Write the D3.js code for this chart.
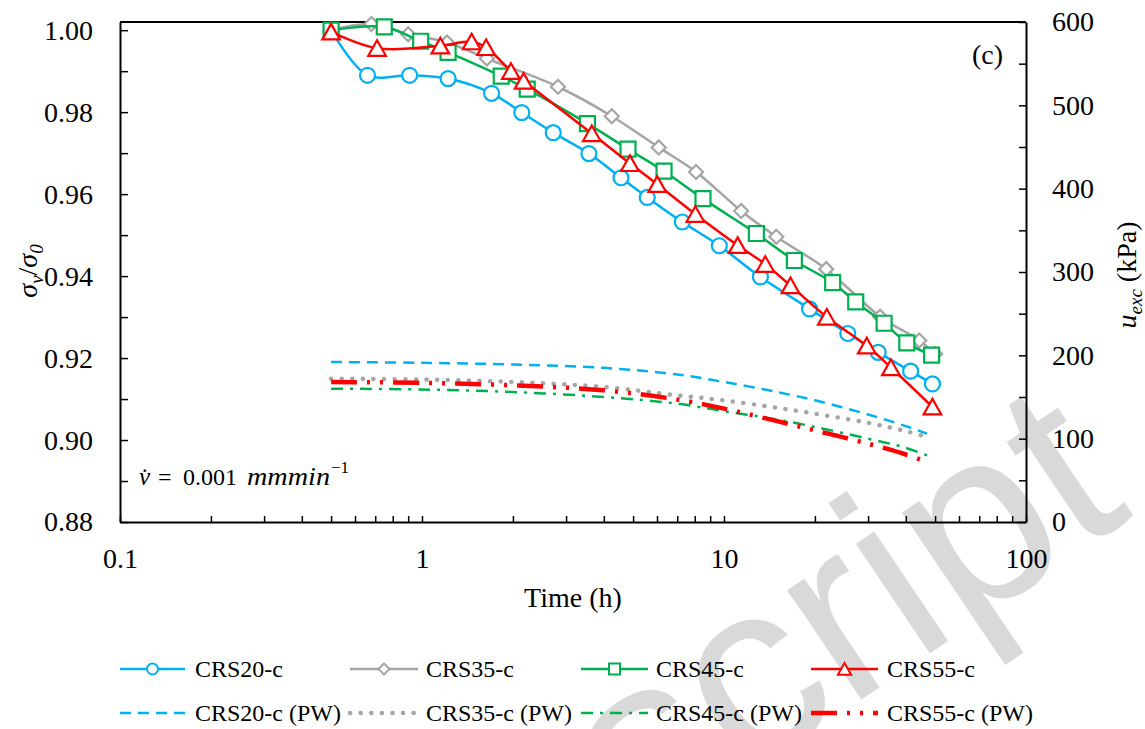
<!DOCTYPE html>
<html>
<head>
<meta charset="utf-8">
<script src="https://cdn.jsdelivr.net/npm/d3@7"></script>
<style>
  body { margin: 0; background: #fff; }
  svg { display: block; }
  text { font-family: "Liberation Serif", "Times New Roman", serif; fill: #000; }
</style>
</head>
<body>
<svg id="chart" width="1145" height="729"></svg>
<script>
// ---------------- DATA ----------------
// sigma_v / sigma_0 (left axis) vs time (h)
const crs20Time  = [0.5, 0.66, 0.91, 1.22, 1.70, 2.14, 2.72, 3.57, 4.56, 5.57, 7.28, 9.65, 13.2, 19.2, 25.7, 32.4, 41.5, 49];
const crs20Ratio = [1.000, 0.989, 0.989, 0.9882, 0.9846, 0.9799, 0.9750, 0.9699, 0.9640, 0.9592, 0.9532, 0.9474, 0.9398, 0.9320, 0.9260, 0.9214, 0.9168, 0.9137];

const crs35Time  = [0.5, 0.68, 0.90, 1.21, 1.64, 2.82, 4.25, 6.08, 8.08, 11.4, 14.9, 21.8, 32.9, 44.3, 50];
const crs35Ratio = [1.000, 1.0015, 0.999, 0.997, 0.9931, 0.9862, 0.9790, 0.9714, 0.9654, 0.9559, 0.9496, 0.9417, 0.9301, 0.9243, 0.9210];

const crs45Time  = [0.5, 0.75, 0.99, 1.22, 1.83, 2.23, 3.53, 4.81, 6.33, 8.52, 12.8, 17.1, 22.9, 27.3, 33.9, 40.3, 48.7];
const crs45Ratio = [1.000, 1.0008, 0.9973, 0.9946, 0.9888, 0.9856, 0.9772, 0.9710, 0.9656, 0.9589, 0.9504, 0.9438, 0.9384, 0.9337, 0.9285, 0.9237, 0.9207];

const crs55Time  = [0.5, 0.71, 1.15, 1.46, 1.63, 1.97, 2.17, 3.65, 4.88, 6.01, 8.04, 11.1, 13.7, 16.6, 21.9, 29.7, 35.7, 49];
const crs55Ratio = [0.9996, 0.9956, 0.9962, 0.9972, 0.9958, 0.9900, 0.9876, 0.9748, 0.9675, 0.9624, 0.9551, 0.9475, 0.9429, 0.9377, 0.9300, 0.9230, 0.9177, 0.9081];

// excess pore water pressure u_exc (kPa, right axis)
const pwTime   = [0.5, 1, 2, 4, 7, 10, 15, 20, 30, 40, 47];
const crs20PW  = [192, 191, 189, 185, 177, 168, 156, 146, 129, 115, 106];
const crs35PW  = [172, 171, 168, 162, 152, 146, 137, 130, 119, 109, 102];
const crs45PW  = [160, 159, 156, 150, 142, 133, 123, 114, 100, 89, 80];
const crs55PW  = [168, 167, 164, 158, 147, 136, 121, 110, 94, 81, 72];

// axis tick labels
const xTickLabels      = ["0.1", "1", "10", "100"];
const xTickLabelValues = [0.1, 1, 10, 100];
const yLeftDomain  = [0.88, 1.002];
const yRightDomain = [0, 600];

// ---------------- CHART ----------------
const svg = d3.select("#chart");

const x  = d3.scaleLog().domain([0.1, 100]).range([120, 1026]);
const yL = d3.scaleLinear().domain(yLeftDomain).range([522, 22]);
const yR = d3.scaleLinear().domain(yRightDomain).range([522, 22]);

// watermark (behind everything)
svg.append("text")
  .attr("transform", "translate(1135,515) rotate(-34)")
  .attr("text-anchor", "end")
  .style("font-family", "'Liberation Sans', Arial, sans-serif")
  .style("font-size", "250px")
  .style("fill", "#d9d9d9")
  .text("Manuscript");

// clip for plot
svg.append("defs").append("clipPath").attr("id", "plotclip")
  .append("rect").attr("x", 100).attr("y", 0).attr("width", 960).attr("height", 540);

// axes
const leftTicks = d3.range(88, 101).map(d => d / 100);
const leftAxis = d3.axisLeft(yL)
  .tickValues(leftTicks)
  .tickSizeInner(-8).tickSizeOuter(0).tickPadding(27)
  .tickFormat(d => (Math.round(d * 100) % 2 === 0) ? d3.format(".2f")(d) : "");
const gL = svg.append("g").attr("transform", `translate(${x.range()[0]},0)`).call(leftAxis);

const rightTicks = d3.range(0, 601, 50);
const rightAxis = d3.axisRight(yR)
  .tickValues(rightTicks)
  .tickSizeInner(-7).tickSizeOuter(0).tickPadding(26)
  .tickFormat(d => d % 100 === 0 ? String(d) : "");
const gR = svg.append("g").attr("transform", `translate(${x.range()[1]},0)`).call(rightAxis);

const isMajor = d => Math.abs(Math.log10(d) - Math.round(Math.log10(d))) < 1e-9;
const bottomAxis = d3.axisBottom(x)
  .tickValues(x.ticks())
  .tickSizeInner(-6).tickSizeOuter(0).tickPadding(26)
  .tickFormat(d => {
    if (!isMajor(d)) return "";
    const i = xTickLabelValues.findIndex(v => Math.abs(v - d) < 1e-9);
    return i >= 0 ? xTickLabels[i] : "";
  });
const gB = svg.append("g").attr("transform", `translate(0,${yL.range()[0]})`).call(bottomAxis);

[gL, gR, gB].forEach(g => {
  g.select(".domain").attr("stroke", "#000").attr("stroke-width", 2);
  g.selectAll(".tick line").attr("stroke", "#000").attr("stroke-width", 1.5);
  g.selectAll(".tick text").style("font-family", "'Liberation Serif','Times New Roman',serif").style("font-size", "28px").attr("fill", "#000");
});

// top border
svg.append("line")
  .attr("x1", x.range()[0]).attr("x2", x.range()[1])
  .attr("y1", yL.range()[1]).attr("y2", yL.range()[1])
  .attr("stroke", "#000").attr("stroke-width", 2);

// axis titles
svg.append("text").attr("x", (x.range()[0] + x.range()[1]) / 2).attr("y", 607)
  .attr("text-anchor", "middle").style("font-size", "28px").text("Time (h)");

const lt = svg.append("text").attr("transform", "translate(37,271) rotate(-90)")
  .attr("text-anchor", "middle").style("font-size", "28px");
lt.append("tspan").style("font-style", "italic").text("σ");
lt.append("tspan").style("font-style", "italic").style("font-size", "19px").attr("dy", 6).text("v");
lt.append("tspan").attr("dy", -6).text("/");
lt.append("tspan").style("font-style", "italic").text("σ");
lt.append("tspan").style("font-style", "italic").style("font-size", "19px").attr("dy", 6).text("0");

const rt = svg.append("text").attr("transform", "translate(1136,275) rotate(-90)")
  .attr("text-anchor", "middle").style("font-size", "28px");
rt.append("tspan").style("font-style", "italic").text("u");
rt.append("tspan").style("font-style", "italic").style("font-size", "19px").attr("dy", 6).text("exc");
rt.append("tspan").attr("dy", -6).text(" (kPa)");

// annotations
svg.append("text").attr("x", 972).attr("y", 64).style("font-size", "28px").text("(c)");
svg.append("text").attr("x", 139).attr("y", 485).style("font-size", "25px").style("font-style", "italic").text("v\u0307");
svg.append("text").attr("x", 158).attr("y", 485).style("font-size", "24px").text("=");
svg.append("text").attr("x", 183).attr("y", 485).style("font-size", "24px").text("0.001");
svg.append("text").attr("x", 247).attr("y", 485).style("font-size", "25px").style("font-style", "italic")
  .attr("textLength", 83).attr("lengthAdjust", "spacingAndGlyphs").text("mmmin");
svg.append("text").attr("x", 331).attr("y", 473).style("font-size", "17px").text("\u22121");

// series definitions
const mainSeries = [
  { name: "CRS20-c", t: crs20Time, v: crs20Ratio, color: "#00B0F0", marker: "circle" },
  { name: "CRS35-c", t: crs35Time, v: crs35Ratio, color: "#A5A5A5", marker: "diamond" },
  { name: "CRS45-c", t: crs45Time, v: crs45Ratio, color: "#00B050", marker: "square" },
  { name: "CRS55-c", t: crs55Time, v: crs55Ratio, color: "#FF0000", marker: "triangle" }
];
const pwSeries = [
  { name: "CRS20-c (PW)", v: crs20PW, color: "#00B0F0", width: 2.5, dash: "11,7", cap: "butt" },
  { name: "CRS35-c (PW)", v: crs35PW, color: "#A6A6A6", width: 4.5, dash: "0.1,10.5", cap: "round" },
  { name: "CRS45-c (PW)", v: crs45PW, color: "#00B050", width: 2.5, dash: "12,7,3,7", cap: "butt" },
  { name: "CRS55-c (PW)", v: crs55PW, color: "#FF0000", width: 4.5, dash: "26,10,3,10,3,10", cap: "butt" }
];

function markerPath(type, s) {
  const p = d3.path();
  if (type === "circle") { p.arc(0, 0, s, 0, 2 * Math.PI); p.closePath(); }
  else if (type === "square") { p.rect(-s, -s, 2 * s, 2 * s); }
  else if (type === "diamond") { p.moveTo(0, -s); p.lineTo(s, 0); p.lineTo(0, s); p.lineTo(-s, 0); p.closePath(); }
  else if (type === "triangle") { p.moveTo(0, -s); p.lineTo(s * 1.1, s * 0.95); p.lineTo(-s * 1.1, s * 0.95); p.closePath(); }
  return p.toString();
}
const markerSize = { circle: 7.5, square: 7.5, diamond: 7, triangle: 8 };
const legendMarkerSize = { circle: 5.5, square: 5.5, diamond: 5.5, triangle: 6 };

const plot = svg.append("g").attr("clip-path", "url(#plotclip)");

const lineL = d3.line().x(d => x(d[0])).y(d => yL(d[1])).curve(d3.curveCatmullRom.alpha(0.5));
const lineR = d3.line().x(d => x(d[0])).y(d => yR(d[1])).curve(d3.curveCatmullRom.alpha(0.5));

mainSeries.forEach(s => {
  const pts = s.t.map((t, i) => [t, s.v[i]]);
  const g = plot.append("g");
  g.append("path").attr("d", lineL(pts)).attr("fill", "none")
    .attr("stroke", s.color).attr("stroke-width", 2.5);
  g.selectAll("path.m").data(pts).join("path").attr("class", "m")
    .attr("d", markerPath(s.marker, markerSize[s.marker]))
    .attr("transform", d => `translate(${x(d[0])},${yL(d[1])})`)
    .attr("fill", "#fff").attr("stroke", s.color).attr("stroke-width", 2.2);
});

pwSeries.forEach(s => {
  const pts = pwTime.map((t, i) => [t, s.v[i]]);
  plot.append("path").attr("d", lineR(pts)).attr("fill", "none")
    .attr("stroke", s.color).attr("stroke-width", s.width)
    .attr("stroke-dasharray", s.dash).attr("stroke-linecap", s.cap);
});

// legend
const legCols = [{ x1: 120, x2: 185, tx: 195 }, { x1: 350, x2: 418, tx: 426 }, { x1: 581, x2: 648, tx: 656 }, { x1: 811, x2: 878, tx: 887 }];
const rowY = [669, 713];
mainSeries.forEach((s, i) => {
  const c = legCols[i], y = rowY[0];
  svg.append("line").attr("x1", c.x1).attr("x2", c.x2).attr("y1", y).attr("y2", y)
    .attr("stroke", s.color).attr("stroke-width", 2.5);
  svg.append("path").attr("d", markerPath(s.marker, legendMarkerSize[s.marker]))
    .attr("transform", `translate(${(c.x1 + c.x2) / 2},${y})`)
    .attr("fill", "#fff").attr("stroke", s.color).attr("stroke-width", 2);
  svg.append("text").attr("x", c.tx).attr("y", y + 8).style("font-size", "24px").text(s.name);
});
pwSeries.forEach((s, i) => {
  const c = legCols[i], y = rowY[1];
  svg.append("line").attr("x1", c.x1).attr("x2", c.x2).attr("y1", y).attr("y2", y)
    .attr("stroke", s.color).attr("stroke-width", s.width)
    .attr("stroke-dasharray", s.dash).attr("stroke-linecap", s.cap);
  svg.append("text").attr("x", c.tx).attr("y", y + 8).style("font-size", "24px").text(s.name);
});
</script>
</body>
</html>
